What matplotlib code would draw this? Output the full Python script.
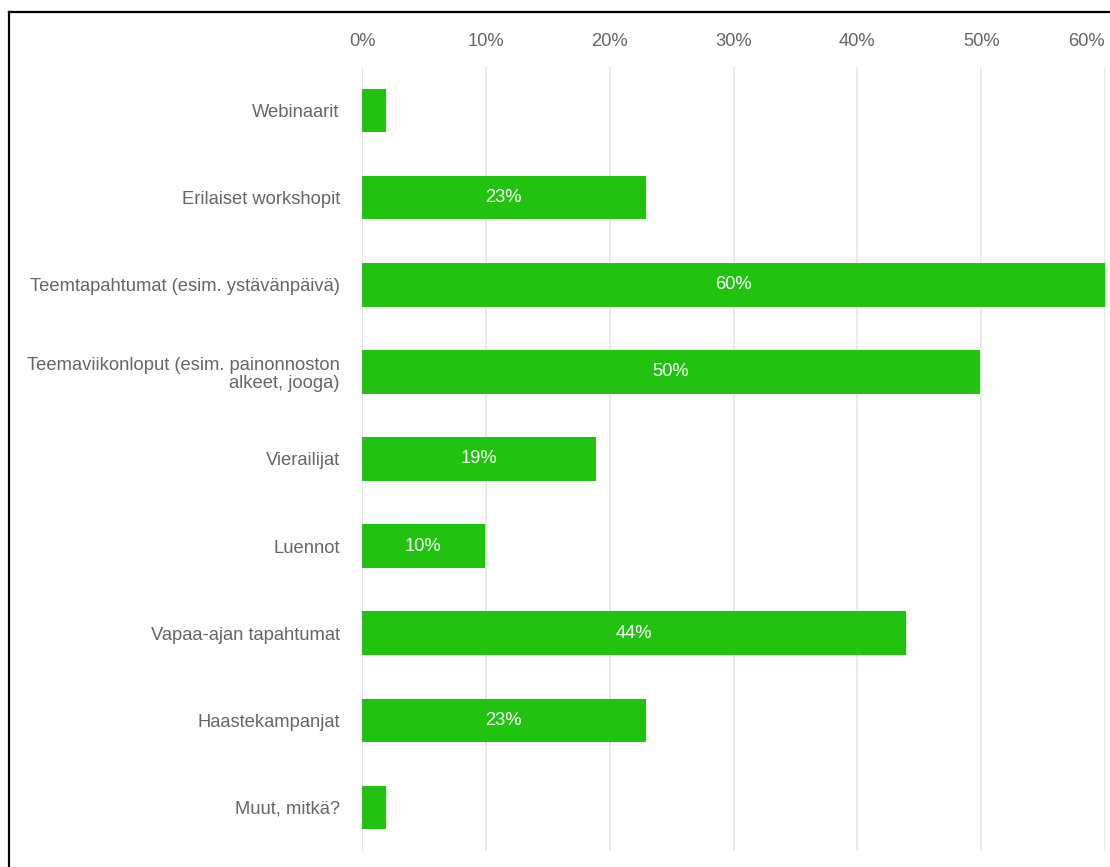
import numpy as np
import matplotlib.pyplot as plt
from matplotlib.lines import Line2D

categories = ["Webinaarit", "Erilaiset workshopit", "Teemtapahtumat (esim. ystävänpäivä)",
              "Teemaviikonloput (esim. painonnoston\nalkeet, jooga)", "Vierailijat", "Luennot",
              "Vapaa-ajan tapahtumat", "Haastekampanjat", "Muut, mitkä?"]
values = [1.9, 22.9, 60.0, 49.9, 18.9, 9.9, 43.9, 22.9, 1.9]
shown = [False, True, True, True, True, True, True, True, False]
ticks = [0, 10, 20, 30, 40, 50, 60]

plt.rcParams['font.family'] = ['Liberation Sans', 'DejaVu Sans']
green = "#21c210"
grey = "#666666"
fs = 13.2

fig = plt.figure(figsize=(11.1, 8.67), dpi=100)
ax = fig.add_axes([362 / 1110, 1 - 851 / 867, 743 / 1110, 784 / 867])

y = np.arange(len(categories))
ax.barh(y, values, height=0.5, color=green, zorder=3)
for yi, v, s in zip(y, values, shown):
    if s:
        ax.text(v / 2, yi, "{:.0f}%".format(v), ha="center", va="center",
                color="white", fontsize=fs, zorder=4)

ax.set_xlim(0, 60)
ax.set_ylim(len(categories) - 0.5, -0.5)
ax.set_yticks(y)
ax.set_yticklabels(categories, fontsize=fs, color=grey, ha="right", linespacing=1.1)
ax.set_xticks(ticks)
ax.set_xticklabels(["{}%".format(t) for t in ticks], fontsize=fs, color=grey)
ax.xaxis.tick_top()
ax.tick_params(axis="x", length=0, pad=12)
ax.tick_params(axis="y", length=0, pad=16)
# last label pushed inside like the original
ax.xaxis.get_major_ticks()[-1].label2.set_ha("right")
ax.grid(axis="x", color="#e6e6e6", linewidth=1.2, zorder=0)
ax.axvline(0, color="#ccd6eb", linewidth=1.2, zorder=1)
for s in ax.spines.values():
    s.set_visible(False)

# cropped screenshot frame (left and top only)
fig.add_artist(Line2D([8.5 / 1110, 8.5 / 1110], [0, 1 - 12 / 867], color="black", linewidth=1.6))
fig.add_artist(Line2D([8.5 / 1110, 1], [1 - 12 / 867, 1 - 12 / 867], color="black", linewidth=1.6))

fig.savefig("out.png", dpi=100)
